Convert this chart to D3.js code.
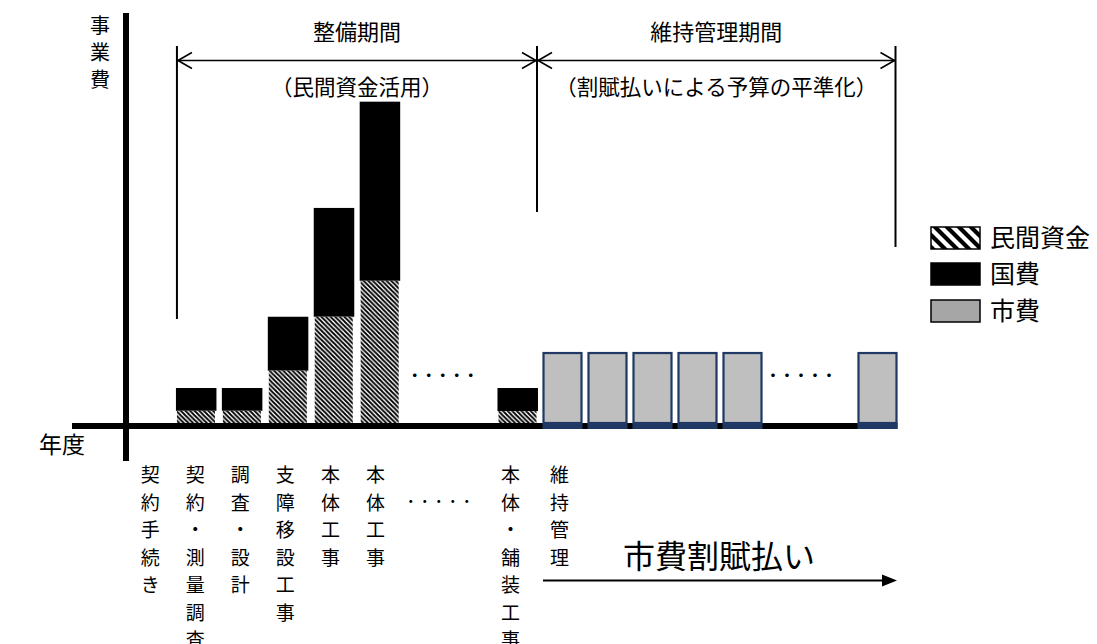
<!DOCTYPE html>
<html><head><meta charset="utf-8">
<script src="https://cdn.jsdelivr.net/npm/d3@7"></script>
<style>
html,body{margin:0;padding:0;background:#fff;}
svg{display:block;font-family:"Noto Sans CJK JP","Noto Sans",sans-serif;}
</style></head>
<body>
<script>
// ---- data ----
const buildKeys = ["b0","b1","b2","b3","b4","b5","b6","b7","b8"];
const buildLabels = ["契約手続き","契約・測量調査","調査・設計","支障移設工事","本体工事","本体工事","","","本体・舗装工事"];
const privateFunds = [0, 3.8, 3.8, 16.3, 33.1, 44.3, null, null, 3.7];
const nationalFunds = [0, 7.1, 7.1, 16.8, 33.9, 55.8, null, null, 7.2];
const buildEllipsisSlots = ["b6","b7"];

const maintKeys = ["m0","m1","m2","m3","m4","m5","m6","m7"];
const maintLabels = ["維持管理","","","","","","",""];
const cityFunds = [21.8, 21.8, 21.8, 21.8, 21.8, null, null, 21.8];
const maintEllipsisSlots = ["m5","m6"];

const legendItems = ["民間資金","国費","市費"];
const periodTitles = ["整備期間","維持管理期間"];
const periodNotes = ["（民間資金活用）","（割賦払いによる予算の平準化）"];
const yAxisLabel = "事業費";
const xAxisLabel = "年度";
const arrowLabel = "市費割賦払い";
const ellipsisText = "・・・・・";

// ---- layout ----
const W = 1097, H = 644;
const svg = d3.select("body").append("svg").attr("width", W).attr("height", H);
const defs = svg.append("defs");

function hatch(id, size, sw) {
  const p = defs.append("pattern").attr("id", id).attr("patternUnits", "userSpaceOnUse")
    .attr("width", size).attr("height", size);
  p.append("rect").attr("width", size).attr("height", size).attr("fill", "#fff");
  p.append("path")
    .attr("d", `M${-size/2},${-size/2}L${size*1.5},${size*1.5}M${-size/2},${size/2}L${size/2},${size*1.5}M${size/2},${-size/2}L${size*1.5},${size/2}`)
    .attr("stroke", "#000").attr("stroke-width", sw);
}
hatch("hatchBar", 4.6, 1.8);
hatch("hatchLegend", 12, 4.2);

const xB = d3.scaleBand().domain(buildKeys).range([130, 538]).paddingInner(0.118).paddingOuter(0);
const xM = d3.scaleBand().domain(maintKeys).range([542.5, 897.5]).paddingInner(0.111).paddingOuter(0);
const y = d3.scaleLinear().domain([0, 100]).range([423, 102]);

// ---- construction bars ----
const buildData = buildKeys.map((k, i) => ({k, p: privateFunds[i], n: nationalFunds[i]}))
  .filter(d => d.p != null && (d.p + d.n) > 0);

svg.append("g").selectAll("rect").data(buildData).join("rect")
  .attr("x", d => xB(d.k)).attr("width", xB.bandwidth())
  .attr("y", d => y(d.p + d.n)).attr("height", d => y(d.p) - y(d.p + d.n))
  .attr("fill", "#000");
svg.append("g").selectAll("rect").data(buildData).join("rect")
  .attr("x", d => xB(d.k) + 1).attr("width", xB.bandwidth() - 2.5)
  .attr("y", d => y(d.p)).attr("height", d => y(0) - y(d.p))
  .attr("fill", "url(#hatchBar)");

// ---- axes ----
svg.append("line").attr("x1", 72).attr("x2", xM.range()[1]).attr("y1", y(0) + 3).attr("y2", y(0) + 3)
  .attr("stroke", "#000").attr("stroke-width", 6);
svg.append("line").attr("x1", 126).attr("x2", 126).attr("y1", 13).attr("y2", 461)
  .attr("stroke", "#000").attr("stroke-width", 6);

// ---- maintenance bars ----
const maintData = maintKeys.map((k, i) => ({k, v: cityFunds[i]})).filter(d => d.v != null);
svg.append("g").selectAll("rect").data(maintData).join("rect")
  .attr("x", d => xM(d.k) + 1).attr("width", xM.bandwidth() - 2)
  .attr("y", d => y(d.v)).attr("height", d => y(0) - y(d.v))
  .attr("fill", "#bfbfbf").attr("stroke", "#1f3864").attr("stroke-width", 2.2);
svg.append("g").selectAll("rect").data(maintData).join("rect")
  .attr("x", d => xM(d.k)).attr("width", xM.bandwidth())
  .attr("y", y(0)).attr("height", 6)
  .attr("fill", "#1f3864");

// ---- ellipses between bars ----
function gapCenter(scale, slots) {
  return (scale(slots[0]) + scale(slots[slots.length - 1]) + scale.bandwidth()) / 2;
}
svg.append("text").attr("x", gapCenter(xB, buildEllipsisSlots) - 6).attr("y", 380)
  .attr("text-anchor", "middle").attr("font-size", 14).attr("font-weight", "bold").text(ellipsisText);
svg.append("text").attr("x", gapCenter(xM, maintEllipsisSlots) - 9).attr("y", 380)
  .attr("text-anchor", "middle").attr("font-size", 14).attr("font-weight", "bold").text(ellipsisText);

// ---- period boundaries ----
const xLeft = xB(buildKeys[1]) + 1, xMid = xB.range()[1] - 1, xRight = xM.range()[1] - 2;
const bounds = [[xLeft, 319], [xMid, 212], [xRight, 247]];
svg.append("g").selectAll("line").data(bounds).join("line")
  .attr("x1", d => d[0]).attr("x2", d => d[0]).attr("y1", 46).attr("y2", d => d[1])
  .attr("stroke", "#000").attr("stroke-width", 2);

const arrowY = 60.5;
function doubleArrow(x1, x2) {
  const g = svg.append("g").attr("stroke", "#000").attr("fill", "none").attr("stroke-width", 1.6);
  g.append("line").attr("x1", x1).attr("x2", x2).attr("y1", arrowY).attr("y2", arrowY);
  g.append("path").attr("d", `M${x1 + 15},${arrowY - 8}L${x1 + 1},${arrowY}L${x1 + 15},${arrowY + 8}`);
  g.append("path").attr("d", `M${x2 - 15},${arrowY - 8}L${x2 - 1},${arrowY}L${x2 - 15},${arrowY + 8}`);
}
doubleArrow(xLeft, xMid);
doubleArrow(xMid, xRight);

const periodCenters = [(xLeft + xMid) / 2, (xMid + xRight) / 2];
periodTitles.forEach((t, i) => {
  svg.append("text").attr("x", periodCenters[i]).attr("y", 40).attr("text-anchor", "middle")
    .attr("font-size", 22).text(t);
  svg.append("text").attr("x", periodCenters[i]).attr("y", 95).attr("text-anchor", "middle")
    .attr("font-size", 21.5).text(periodNotes[i]);
});

// ---- axis labels ----
const yl = svg.append("text").attr("font-size", 20).attr("text-anchor", "middle");
Array.from(yAxisLabel).forEach((c, i) => {
  yl.append("tspan").attr("x", 100).attr("y", 33 + i * 27).text(c);
});
svg.append("text").attr("x", 39).attr("y", 453).attr("font-size", 23).text(xAxisLabel);

// ---- category labels (vertical) ----
function vLabel(x, text) {
  const t = svg.append("text").attr("font-size", 19).attr("text-anchor", "middle");
  Array.from(text).forEach((c, i) => {
    t.append("tspan").attr("x", x).attr("y", 482 + i * 27.5).text(c);
  });
}
buildKeys.forEach((k, i) => { if (buildLabels[i]) vLabel(xB(k) + xB.bandwidth() / 2 - i * 0.9, buildLabels[i]); });
maintKeys.forEach((k, i) => { if (maintLabels[i]) vLabel(xM(k) + xM.bandwidth() / 2 - 3, maintLabels[i]); });
svg.append("text").attr("x", gapCenter(xB, buildEllipsisSlots) - 10).attr("y", 506)
  .attr("text-anchor", "middle").attr("font-size", 14).text(ellipsisText);

// ---- bottom arrow ----
svg.append("line").attr("x1", 543).attr("x2", 884).attr("y1", 580.5).attr("y2", 580.5)
  .attr("stroke", "#000").attr("stroke-width", 2);
svg.append("path").attr("d", "M882,574.5L897,580.5L882,586.5Z").attr("fill", "#000");
svg.append("text").attr("x", 623).attr("y", 568).attr("font-size", 32).text(arrowLabel);

// ---- legend ----
const legendFills = ["url(#hatchLegend)", "#000", "#a6a6a6"];
const legendY = [227, 263, 300];
const lg = svg.append("g");
legendItems.forEach((name, i) => {
  lg.append("rect").attr("x", 931).attr("y", legendY[i]).attr("width", 49).attr("height", 22)
    .attr("fill", legendFills[i]).attr("stroke", "#000").attr("stroke-width", 1.5);
  lg.append("text").attr("x", 990).attr("y", legendY[i] + 20).attr("font-size", 25).text(name);
});
</script>
</body></html>
